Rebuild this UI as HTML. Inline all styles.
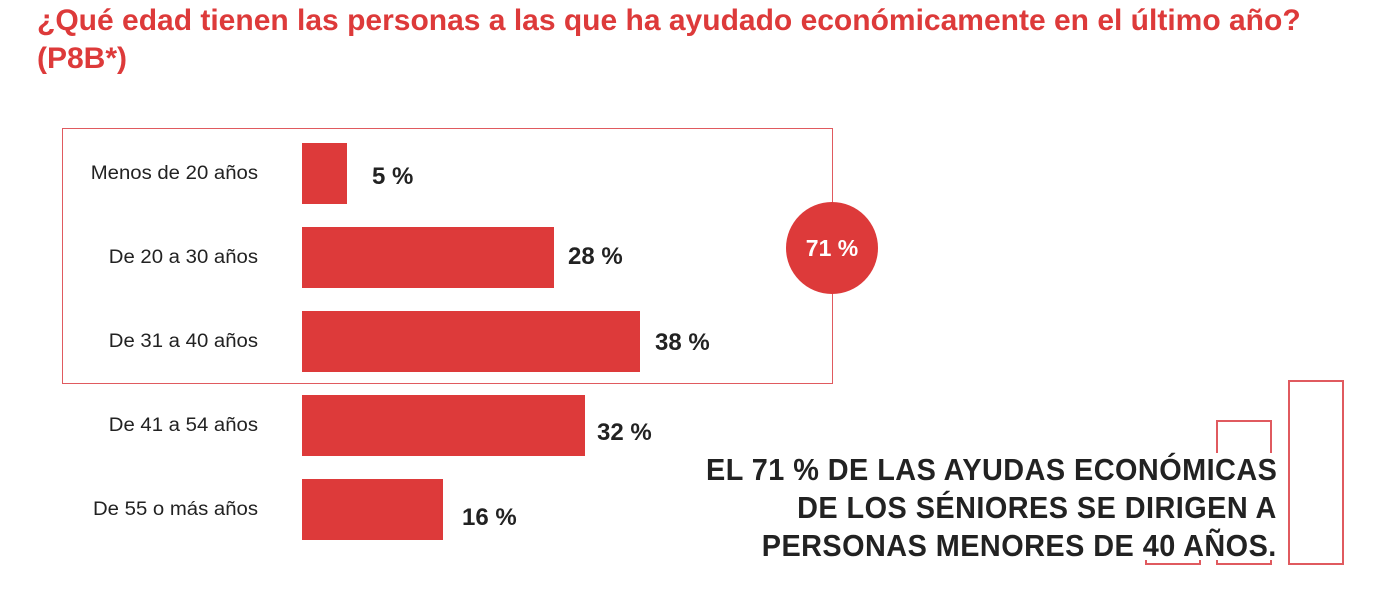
<!DOCTYPE html>
<html><head><meta charset="utf-8"><style>
body{margin:0;width:1384px;height:594px;background:#fff;position:relative;overflow:hidden;font-family:"Liberation Sans",sans-serif}
.t{position:absolute;left:37px;color:#dd3a3a;font-weight:bold;font-size:30px;transform-origin:0 0;transform:scaleX(1.0);white-space:nowrap}
.lab{position:absolute;width:258px;left:0;text-align:right;font-size:19px;color:#222;transform-origin:100% 50%;transform:scaleX(1.07);white-space:nowrap}
.bar{position:absolute;left:302px;height:61px;background:#dd3a3a}
.val{position:absolute;font-weight:bold;font-size:24px;color:#222;transform-origin:0 50%;transform:scaleX(1.0)}
.big{position:absolute;right:107px;text-align:right;font-weight:bold;font-size:31px;color:#222;white-space:nowrap;transform-origin:100% 50%;transform:scaleX(.93);letter-spacing:.5px}
</style></head><body>
<div class="t" style="top:4px">¿Qué edad tienen las personas a las que ha ayudado económicamente en el último año?</div>
<div class="t" style="top:42px">(P8B*)</div>
<div style="position:absolute;left:62px;top:128px;width:769px;height:254px;border:1.5px solid #e05a5f"></div>
<div style="position:absolute;left:786px;top:202px;width:92px;height:92px;border-radius:50%;background:#dd3a3a;color:#fff;font-weight:bold;font-size:23px;line-height:92px;text-align:center">71 %</div>
<div class="lab" style="top:163px">Menos de 20 años</div>
<div class="lab" style="top:247px">De 20 a 30 años</div>
<div class="lab" style="top:331px">De 31 a 40 años</div>
<div class="lab" style="top:415px">De 41 a 54 años</div>
<div class="lab" style="top:499px">De 55 o más años</div>
<div class="bar" style="top:143px;width:45px"></div>
<div class="bar" style="top:227px;width:252px"></div>
<div class="bar" style="top:311px;width:338px"></div>
<div class="bar" style="top:395px;width:283px"></div>
<div class="bar" style="top:479px;width:141px"></div>
<div class="val" style="top:163px;left:372px">5 %</div>
<div class="val" style="top:243px;left:568px">28 %</div>
<div class="val" style="top:329px;left:655px">38 %</div>
<div class="val" style="top:419px;left:597px">32 %</div>
<div class="val" style="top:504px;left:462px">16 %</div>
<div class="big" style="top:452px">EL 71 % DE LAS AYUDAS ECONÓMICAS</div>
<div class="big" style="top:490px">DE LOS SÉNIORES SE DIRIGEN A</div>
<div class="big" style="top:528px">PERSONAS MENORES DE 40 AÑOS.</div>
<div style="position:absolute;left:1288px;top:380px;width:52px;height:181px;border:2px solid #e05a5f"></div>
<div style="position:absolute;left:1216px;top:420px;width:52px;height:31px;border:2px solid #e05a5f;border-bottom:none"></div>
<div style="position:absolute;left:1145px;top:560px;width:52px;height:3px;border:2px solid #e05a5f;border-top:none"></div>
<div style="position:absolute;left:1216px;top:560px;width:52px;height:3px;border:2px solid #e05a5f;border-top:none"></div>
</body></html>
